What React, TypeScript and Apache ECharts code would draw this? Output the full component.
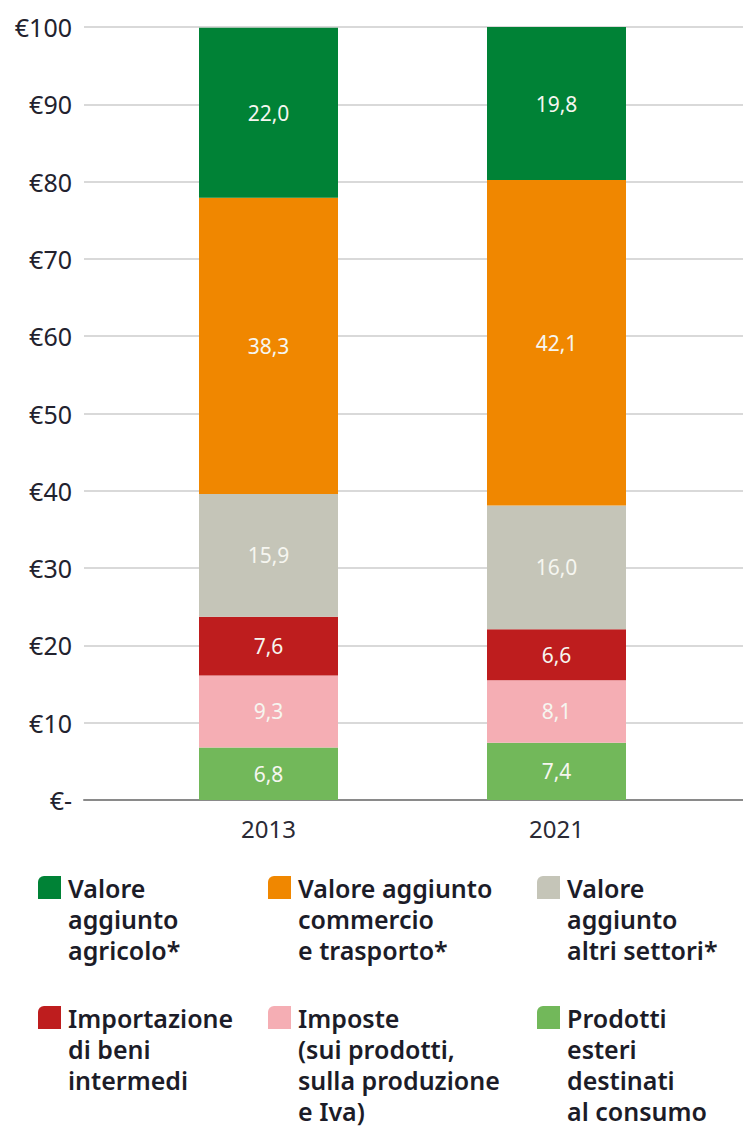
import React, { useEffect, useRef } from "react";
import * as echarts from "echarts";

const years = ["2013", "2021"];
const seriesNames = [
  "Prodotti esteri destinati al consumo",
  "Imposte (sui prodotti, sulla produzione e Iva)",
  "Importazione di beni intermedi",
  "Valore aggiunto altri settori*",
  "Valore aggiunto commercio e trasporto*",
  "Valore aggiunto agricolo*",
];
const prodottiEsteri = [6.8, 7.4];
const imposte = [9.3, 8.1];
const importazione = [7.6, 6.6];
const altriSettori = [15.9, 16.0];
const commercio = [38.3, 42.1];
const agricolo = [22.0, 19.8];
const colors = ["#72b85a", "#f5aeb4", "#be1d1e", "#c5c5b8", "#f08700", "#008236"];
const yTicks = [0, 10, 20, 30, 40, 50, 60, 70, 80, 90, 100];

// legend order as shown (row-major)
const legendOrder = [5, 4, 3, 2, 1, 0];
const legendLabels = [
  "Valore\naggiunto\nagricolo*",
  "Valore aggiunto\ncommercio\ne trasporto*",
  "Valore\naggiunto\naltri settori*",
  "Importazione\ndi beni\nintermedi",
  "Imposte\n(sui prodotti,\nsulla produzione\ne Iva)",
  "Prodotti\nesteri\ndestinati\nal consumo",
];

const FONT = "'Noto Sans', sans-serif";

export default function App() {
  const ref = useRef<HTMLDivElement>(null);
  useEffect(() => {
    if (!ref.current) return;
    const chart = echarts.init(ref.current, null, { renderer: "svg" });
    const values = [prodottiEsteri, imposte, importazione, altriSettori, commercio, agricolo];
    const colX = [38, 268, 537];
    const rowY = [876, 1006];
    const graphic: any[] = [];
    legendOrder.forEach((si, i) => {
      const col = i % 3;
      const row = Math.floor(i / 3);
      graphic.push({
        type: "rect",
        left: colX[col],
        top: rowY[row],
        shape: { width: 23, height: 23, r: [6, 0, 0, 0] },
        style: { fill: colors[si] },
      });
      graphic.push({
        type: "text",
        left: colX[col] + 30,
        top: rowY[row] - 4,
        style: {
          text: legendLabels[i],
          font: `600 25px ${FONT}`,
          lineHeight: 31,
          fill: "#1c1c28",
        },
      });
    });
    chart.setOption({
      animation: false,
      textStyle: { fontFamily: FONT },
      grid: [
        { left: 84, right: 0, top: 27, bottom: 328 },
        { left: 124.5, right: 42.5, top: 27, bottom: 328 },
      ],
      xAxis: [
        {
          gridIndex: 0,
          type: "value",
          min: 0,
          max: 1,
          axisLine: { show: true, lineStyle: { color: "#8a8a8a", width: 2 } },
          axisTick: { show: false },
          axisLabel: { show: false },
          splitLine: { show: false },
        },
        {
          gridIndex: 1,
          type: "category",
          data: years,
          axisLine: { show: false },
          axisTick: { show: false },
          axisLabel: { fontSize: 24, color: "#2a2a35", margin: 16, fontFamily: FONT },
        },
      ],
      yAxis: [
        {
          gridIndex: 0,
          type: "value",
          min: 0,
          max: 100,
          interval: 10,
          axisLine: { show: false },
          axisTick: { show: false },
          axisLabel: {
            fontSize: 25,
            color: "#22222e",
            margin: 12,
            fontFamily: FONT,
            formatter: (v: number) => (v === 0 ? "€-" : "€" + v),
          },
          splitLine: { lineStyle: { color: "#cccccc", width: 1.5 } },
        },
        {
          gridIndex: 1,
          type: "value",
          min: 0,
          max: 100,
          show: false,
          splitLine: { show: false },
        },
      ],
      series: seriesNames.map((name, i) => ({
        name,
        type: "bar",
        xAxisIndex: 1,
        yAxisIndex: 1,
        stack: "total",
        barWidth: 139,
        data: values[i],
        itemStyle: { color: colors[i] },
        label: {
          show: true,
          position: "inside",
          color: "#f6f6f0",
          fontSize: 21,
          fontFamily: FONT,
          formatter: (p: any) => Number(p.value).toFixed(1).replace(".", ","),
        },
      })),
      graphic,
    });
    return () => chart.dispose();
  }, []);
  return <div ref={ref} style={{ width: 743, height: 1128, position: "absolute", left: 0, top: 0 }} />;
}
